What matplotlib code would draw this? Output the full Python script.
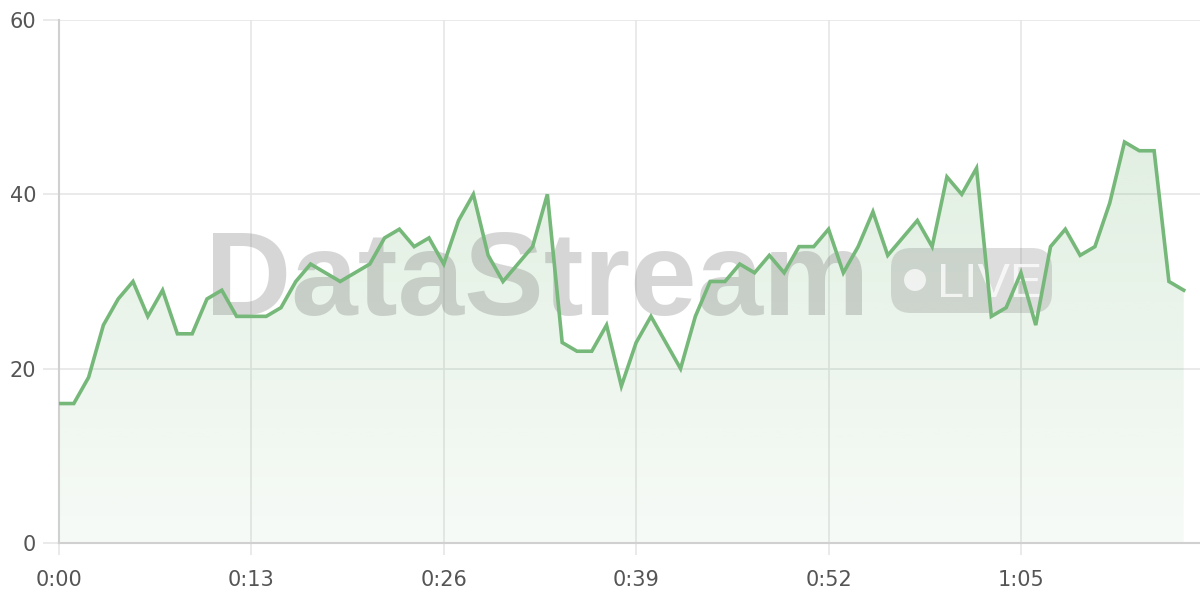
import numpy as np
import matplotlib as mpl

mpl.use("agg")
from matplotlib import pyplot as plt
from matplotlib.patches import FancyBboxPatch, Circle
from matplotlib.colors import to_rgb

# seconds since start and the measured value
seconds = list(range(77))
values = [16, 16, 19, 25, 28, 30, 26, 29, 24, 24,
          28, 29, 26, 26, 26, 27, 30, 32, 31, 30,
          31, 32, 35, 36, 34, 35, 32, 37, 40, 33,
          30, 32, 34, 40, 23, 22, 22, 25, 18, 23,
          26, 23, 20, 26, 30, 30, 32, 31, 33, 31,
          34, 34, 36, 31, 34, 38, 33, 35, 37, 34,
          42, 40, 43, 26, 27, 31, 25, 34, 36, 33,
          34, 39, 46, 45, 45, 30, 29]
x_ticks = [0, 13, 26, 39, 52, 65]
x_tick_labels = ["0:00", "0:13", "0:26", "0:39", "0:52", "1:05"]
y_ticks = [0, 20, 40, 60]

line_color = "#76b879"
grid_color = "#e6e6e6"
text_color = "#555555"

fig = plt.figure(figsize=(12, 6), dpi=100, facecolor="w")
ax = fig.add_axes([59 / 1200, 57 / 600, 1 - 59 / 1200, 523 / 600])
x_max = 77.1

# gradient fill under the line
fill = ax.fill_between(seconds, values, 0, color="none", lw=0)
rgb = to_rgb(line_color)
grad = np.zeros((256, 1, 4))
grad[:, 0, :3] = rgb
grad[:, 0, 3] = np.linspace(0.27, 0.06, 256)
img = ax.imshow(grad, extent=[0, x_max, 0, 60], aspect="auto", zorder=1,
                interpolation="bilinear")
img.set_clip_path(fill.get_paths()[0], transform=ax.transData)
ax.set_xlim(0, x_max)
ax.set_ylim(0, 60)

ax.plot(seconds, values, color=line_color, lw=2.6, zorder=4,
        solid_joinstyle="miter")

# axes styling
ax.set_xticks(x_ticks)
ax.set_xticklabels(x_tick_labels)
ax.set_yticks(y_ticks)
ax.grid(True, color=grid_color, lw=1.2, zorder=0)
ax.set_axisbelow(True)
for side in ["top", "right"]:
    ax.spines[side].set_visible(False)
ax.spines["left"].set_color("#d0d0d0")
ax.spines["left"].set_linewidth(1.5)
ax.spines["bottom"].set_color("#d0d0d0")
ax.spines["bottom"].set_linewidth(1.5)
ax.tick_params(axis="both", colors=grid_color, width=1.2,
               labelcolor=text_color, labelsize=15)
ax.tick_params(axis="x", length=8.5, pad=11)
ax.tick_params(axis="y", length=11.5, pad=5)

# watermark (positions in inches from bottom-left of the figure)
wm = fig.dpi_scale_trans
ax.text(5.37, 2.85, "DataStream", transform=wm, ha="center", va="baseline",
        fontsize=86, fontweight="bold", family="Liberation Sans",
        color="#7a7a7a", alpha=0.3, zorder=3, clip_on=False)
badge = FancyBboxPatch((8.91, 2.87), 1.61, 0.65,
                       boxstyle="round,pad=0,rounding_size=0.2",
                       transform=wm, fc="#7a7a7a", ec="none", alpha=0.25,
                       zorder=3, clip_on=False)
ax.add_artist(badge)
ax.add_artist(Circle((9.15, 3.20), 0.11, transform=wm, fc="white",
                     ec="none", alpha=0.7, zorder=3, clip_on=False))
ax.text(9.37, 3.03, "LIVE", transform=wm, ha="left", va="baseline",
        fontsize=35, family="Liberation Sans", color="white", alpha=0.75,
        zorder=3, clip_on=False)

fig.savefig("out.png", dpi=100, facecolor="w")
